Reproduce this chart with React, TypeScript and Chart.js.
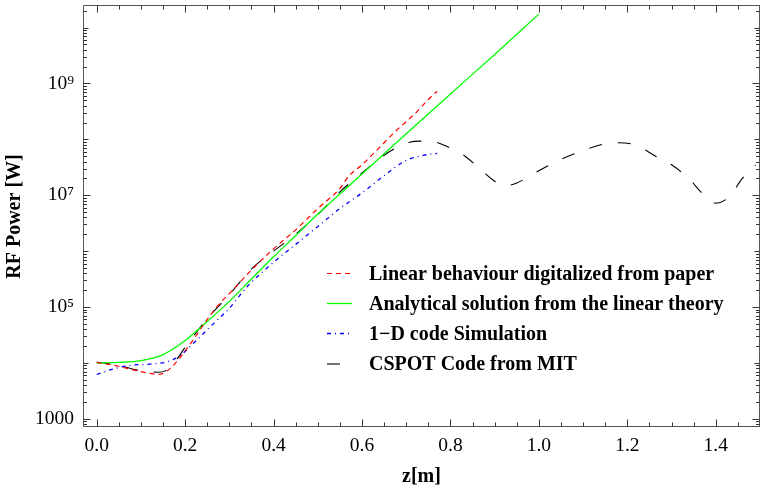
import React, { useEffect, useRef } from 'react';
import { Chart, registerables } from 'chart.js';

Chart.register(...registerables);

// ---- data (z in metres, RF power in watts) ----
const zLinearPaper = [0, 0.05, 0.08, 0.12, 0.14, 0.155, 0.17, 0.195, 0.22, 0.25, 0.28, 0.3, 0.35, 0.4, 0.45, 0.5, 0.55, 0.57, 0.6, 0.63, 0.68, 0.72, 0.76, 0.77];
const pLinearPaper = [1.02e4, 8.7e3, 7.6e3, 6.5e3, 6.2e3, 6.8e3, 8.5e3, 1.45e4, 2.7e4, 6.0e4, 1.2e5, 1.74e5, 4.6e5, 1.1e6, 2.4e6, 5.8e6, 1.32e7, 2.2e7, 3.5e7, 6.0e7, 1.5e8, 2.9e8, 6.2e8, 7.2e8];

const zAnalytical = [0, 0.05, 0.1, 0.15, 0.2, 0.25, 0.3, 0.35, 0.4, 0.45, 0.5, 0.6, 0.7, 0.8, 0.9, 1.0];
const pAnalytical = [1.0e4, 1.02e4, 1.1e4, 1.41e4, 2.51e4, 5.5e4, 1.26e5, 3.16e5, 7.9e5, 1.9e6, 4.6e6, 2.4e7, 1.26e8, 6.5e8, 3.3e9, 1.74e10];

const zSim1D = [0, 0.04, 0.08, 0.12, 0.16, 0.19, 0.22, 0.26, 0.3, 0.34, 0.4, 0.45, 0.5, 0.55, 0.6, 0.65, 0.7, 0.74, 0.77];
const pSim1D = [6.2e3, 7.9e3, 9.1e3, 9.5e3, 1.05e4, 1.38e4, 2.3e4, 4.7e4, 9.5e4, 2.3e5, 6.3e5, 1.32e6, 2.75e6, 5.8e6, 1.1e7, 2.24e7, 4.2e7, 5.2e7, 5.6e7];

const zCspot = [0, 0.04, 0.08, 0.11, 0.14, 0.155, 0.175, 0.2, 0.25, 0.3, 0.35, 0.4, 0.45, 0.5, 0.55, 0.6, 0.65, 0.7, 0.73, 0.76, 0.79, 0.83, 0.87, 0.9, 0.925, 0.95, 1.0, 1.05, 1.1, 1.15, 1.18, 1.22, 1.26, 1.3, 1.34, 1.37, 1.4, 1.43, 1.46, 1.49];
const pCspot = [1.02e4, 9.5e3, 7.8e3, 7.1e3, 6.8e3, 7.2e3, 1.0e4, 1.9e4, 6.2e4, 1.66e5, 4.8e5, 1.0e6, 2.0e6, 4.5e6, 1.15e7, 2.5e7, 5.2e7, 8.5e7, 9.3e7, 9.1e7, 7.6e7, 5.2e7, 2.8e7, 1.78e7, 1.48e7, 1.66e7, 2.75e7, 4.4e7, 6.3e7, 8.3e7, 8.7e7, 7.8e7, 5.2e7, 3.5e7, 1.95e7, 1.07e7, 7.2e6, 9.3e6, 2.0e7, 3.5e7];

const seriesNames = [
  'Linear behaviour digitalized from paper',
  'Analytical solution from the linear theory',
  '1\u2212D code Simulation',
  'CSPOT Code from MIT',
];

const xTickValues = [0, 0.2, 0.4, 0.6, 0.8, 1.0, 1.2, 1.4];
const yTickValues = [1e3, 1e5, 1e7, 1e9];
const yTickLabels = ['1000', '10\u2075', '10\u2077', '10\u2079'];
const xAxisTitle = 'z[m]';
const yAxisTitle = 'RF Power [W]';

const X_MIN = -0.031;
const X_MAX = 1.5;
const Y_MIN = 713;
const Y_MAX = 2.43e10;

const SERIF = "'Liberation Serif', 'Times New Roman', serif";

const styles = [
  { color: '#ff0000', dash: [5, 4], width: 1.2 },
  { color: '#00ff00', dash: [] as number[], width: 1.3 },
  { color: '#0000ff', dash: [4, 4, 1, 4], width: 1.3 },
  { color: '#000000', dash: [13, 16], width: 1.1 },
];

function zip(zs: number[], ps: number[]) {
  return zs.map((z, i) => ({ x: z, y: ps[i] }));
}

export default function App() {
  const ref = useRef<HTMLCanvasElement>(null);

  useEffect(() => {
    document.body.style.margin = '0';
    const canvas = ref.current!;

    const framePlugin = {
      id: 'frameTicks',
      afterDraw(chart: any) {
        const { ctx, chartArea } = chart;
        const xs = chart.scales.x;
        const ys = chart.scales.y;
        const L = chartArea.left + 0.5;
        const R = chartArea.right - 0.5;
        const T = chartArea.top - 0.5;
        const B = chartArea.bottom - 0.5;
        ctx.save();
        ctx.strokeStyle = '#555555';
        ctx.lineWidth = 1;
        ctx.setLineDash([]);
        ctx.beginPath();
        ctx.moveTo(L, T); ctx.lineTo(R + 1, T);
        ctx.moveTo(L, T); ctx.lineTo(L, B);
        ctx.moveTo(L, B); ctx.lineTo(R + 1, B);
        ctx.moveTo(R, T); ctx.lineTo(R, B);
        ctx.stroke();

        ctx.strokeStyle = '#333333';
        ctx.beginPath();
        // x ticks
        for (let i = 0; i <= 30; i++) {
          const v = i * 0.05;
          if (v < X_MIN || v > X_MAX) continue;
          const major = i % 4 === 0;
          const len = major ? 7 : 4;
          const px = Math.round(xs.getPixelForValue(v)) + 0.5;
          ctx.moveTo(px, B); ctx.lineTo(px, B - len);
          ctx.moveTo(px, T); ctx.lineTo(px, T + len);
        }
        // y ticks
        for (let n = 2; n <= 10; n++) {
          for (let k = 1; k <= 9; k++) {
            const v = k * Math.pow(10, n);
            if (v < Y_MIN || v > Y_MAX) continue;
            const major = k === 1 && n % 2 === 1;
            const len = major ? 7 : (k === 1 ? 5 : 3.5);
            const py = Math.round(ys.getPixelForValue(v)) + 0.5;
            ctx.moveTo(L, py); ctx.lineTo(L + len, py);
            ctx.moveTo(R, py); ctx.lineTo(R - len, py);
          }
        }
        ctx.stroke();

        // legend
        const lx0 = 327, lx1 = 352, tx = 369;
        const rows = [273.5, 303.5, 333.5, 364];
        ctx.font = `bold 20px ${SERIF}`;
        ctx.textBaseline = 'middle';
        ctx.textAlign = 'left';
        seriesNames.forEach((name, i) => {
          const s = styles[i];
          ctx.save();
          ctx.beginPath();
          ctx.strokeStyle = s.color;
          ctx.lineWidth = s.width;
          ctx.setLineDash(s.dash);
          ctx.moveTo(lx0, rows[i]);
          ctx.lineTo(lx1, rows[i]);
          ctx.stroke();
          ctx.restore();
          ctx.fillStyle = '#000000';
          ctx.fillText(name, tx, rows[i] + 1);
        });
        ctx.restore();
      },
    };

    const all = [
      zip(zLinearPaper, pLinearPaper),
      zip(zAnalytical, pAnalytical),
      zip(zSim1D, pSim1D),
      zip(zCspot, pCspot),
    ];

    const chart = new Chart(canvas, {
      type: 'scatter',
      data: {
        datasets: all.map((d, i) => ({
          label: seriesNames[i],
          data: d,
          showLine: true,
          borderColor: styles[i].color,
          backgroundColor: styles[i].color,
          borderWidth: styles[i].width,
          borderDash: styles[i].dash,
          pointRadius: 0,
          cubicInterpolationMode: 'monotone',
          fill: false,
        })),
      },
      options: {
        animation: false,
        responsive: false,
        devicePixelRatio: 1,
        layout: { padding: { top: 6, right: 0, bottom: 0, left: 0 } },
        plugins: {
          legend: { display: false },
          tooltip: { enabled: false },
        },
        scales: {
          x: {
            type: 'linear',
            position: 'bottom',
            min: X_MIN,
            max: X_MAX,
            grid: { display: false, drawTicks: false },
            border: { display: false },
            afterBuildTicks: (scale: any) => {
              scale.ticks = xTickValues.map((v) => ({ value: v }));
            },
            afterFit: (scale: any) => {
              scale.height = 64;
              scale.paddingLeft = 0;
              scale.paddingRight = 0;
            },
            ticks: {
              autoSkip: false,
              maxRotation: 0,
              padding: 7,
              color: '#000000',
              font: { family: SERIF, size: 19.5 },
              callback: (v: any) => Number(v).toFixed(1),
            },
            title: {
              display: true,
              text: xAxisTitle,
              color: '#000000',
              font: { family: SERIF, size: 20, weight: 'bold' },
              padding: { top: 0, bottom: 2.5 },
            },
          },
          y: {
            type: 'logarithmic',
            position: 'left',
            min: Y_MIN,
            max: Y_MAX,
            grid: { display: false, drawTicks: false },
            border: { display: false },
            afterBuildTicks: (scale: any) => {
              scale.ticks = yTickValues.map((v) => ({ value: v }));
            },
            afterFit: (scale: any) => {
              scale.width = 83;
              scale.paddingTop = 0;
              scale.paddingBottom = 0;
            },
            ticks: {
              autoSkip: false,
              padding: 9,
              color: '#000000',
              font: { family: SERIF, size: 19.5 },
              callback: (_v: any, idx: number) => yTickLabels[idx],
            },
            title: {
              display: true,
              text: yAxisTitle,
              color: '#000000',
              font: { family: SERIF, size: 20, weight: 'bold' },
              padding: { top: 3, bottom: 0 },
            },
          },
        },
      } as any,
      plugins: [framePlugin],
    });

    return () => chart.destroy();
  }, []);

  return (
    <div style={{ width: 760, height: 491 }}>
      <canvas ref={ref} width={760} height={491} style={{ display: 'block' }} />
    </div>
  );
}
